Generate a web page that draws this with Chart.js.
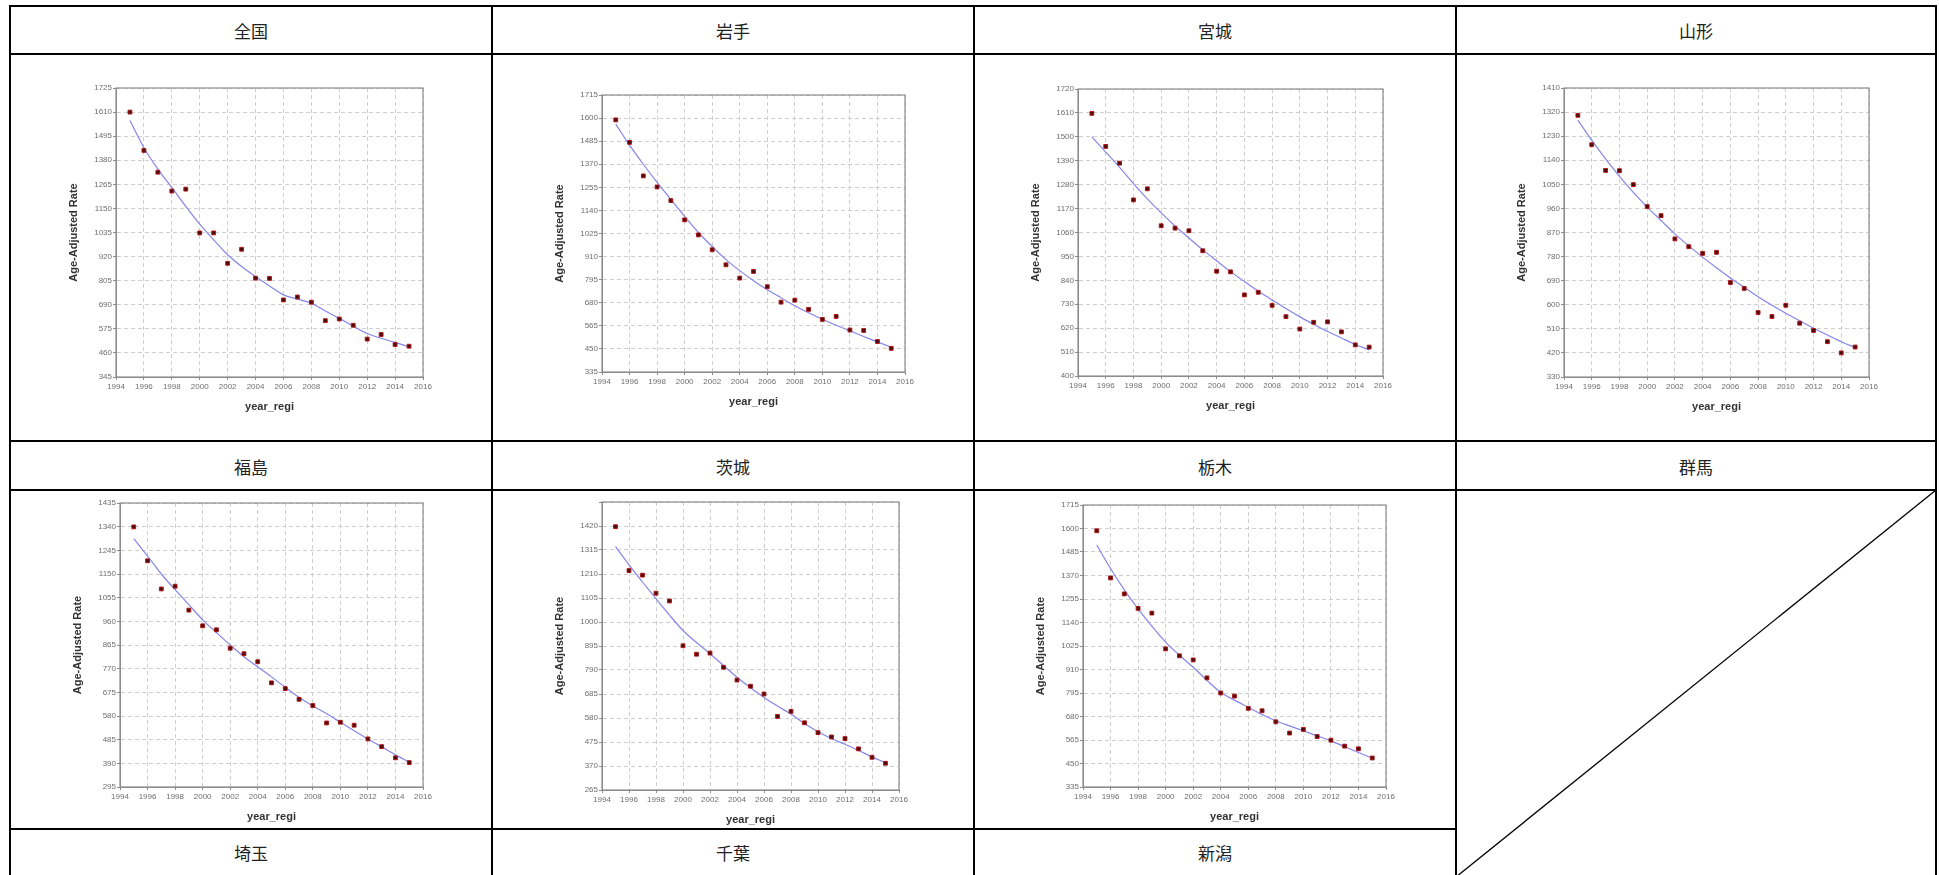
<!DOCTYPE html>
<html><head><meta charset="utf-8">
<script src="https://cdn.jsdelivr.net/npm/chart.js@4.4.1/dist/chart.umd.min.js"></script>
<style>
html,body{margin:0;padding:0;background:#fff;width:1939px;height:875px;overflow:hidden;}
body{position:relative;}
.lbl{position:absolute;font-family:"Noto Sans CJK JP","Noto Sans CJK SC",sans-serif;font-size:17px;color:#222;transform:translate(-50%,-50%);white-space:nowrap;line-height:1;}
.cv{position:absolute;}
svg{position:absolute;left:0;top:0;}
</style></head><body>
<script>
// ---------- data ----------
const years = [1995,1996,1997,1998,1999,2000,2001,2002,2003,2004,2005,2006,2007,2008,2009,2010,2011,2012,2013,2014,2015];
const xTicks = [1994,1996,1998,2000,2002,2004,2006,2008,2010,2012,2014,2016];
const headerRow1 = ['全国','岩手','宮城','山形'];
const headerRow2 = ['福島','茨城','栃木','群馬'];
const headerRow3 = ['埼玉','千葉','新潟'];
const yTitle = 'Age-Adjusted Rate';
const xTitle = 'year_regi';

const obsZenkoku = [1610,1427,1323,1233,1242,1033,1033,888,955,817,816,713,727,702,614,622,592,526,548,500,492];
const fitZenkoku = [1570,1440,1338,1250,1160,1075,1000,929,873,825,780,737,717,697,660,625,588,553,530,510,489];
const ticksZenkoku = [345,460,575,690,805,920,1035,1150,1265,1380,1495,1610,1725];

const obsIwate = [1591,1479,1312,1257,1189,1093,1018,944,869,803,836,760,683,693,647,597,612,544,542,487,453];
const fitIwate = [1570,1465,1370,1280,1195,1110,1030,960,895,840,790,745,705,665,630,598,568,540,512,485,458];
const ticksIwate = [335,450,565,680,795,910,1025,1140,1255,1370,1485,1600,1715];

const obsMiyagi = [1608,1456,1379,1210,1261,1091,1080,1068,976,882,879,773,785,725,673,616,647,649,603,543,533];
const fitMiyagi = [1500,1430,1360,1285,1215,1150,1090,1035,980,930,880,835,790,750,710,672,638,605,575,545,520];
const ticksMiyagi = [400,510,620,730,840,950,1060,1170,1280,1390,1500,1610,1720];

const obsYamagata = [1308,1198,1102,1101,1049,967,933,846,817,792,796,683,661,571,556,598,531,504,462,420,442];
const fitYamagata = [1290,1215,1145,1080,1020,965,915,865,820,778,738,700,665,630,598,568,540,512,487,462,440];
const ticksYamagata = [330,420,510,600,690,780,870,960,1050,1140,1230,1320,1410];

const obsFukushima = [1339,1203,1090,1101,1005,942,926,852,830,798,713,690,647,622,552,555,543,488,457,412,393];
const fitFukushima = [1292,1222,1150,1087,1027,966,915,865,818,777,737,695,655,620,589,555,521,488,456,424,395];
const ticksFukushima = [295,390,485,580,675,770,865,960,1055,1150,1245,1340,1435];

const obsIbaraki = [1417,1225,1205,1126,1092,896,859,864,802,746,719,685,587,609,559,516,497,490,445,408,382];
const fitIbaraki = [1330,1250,1175,1102,1030,963,910,861,810,758,712,670,632,597,556,520,490,465,438,410,385];
const ticksIbaraki = [265,370,475,580,685,790,895,1000,1105,1210,1315,1420,1525];

const obsTochigi = [1589,1358,1280,1209,1186,1011,977,957,869,795,780,720,708,654,599,617,582,564,535,522,477];
const fitTochigi = [1519,1404,1300,1207,1122,1044,980,921,857,798,760,725,690,659,634,610,585,561,532,504,476];
const ticksTochigi = [335,450,565,680,795,910,1025,1140,1255,1370,1485,1600,1715];

// ---------- layout (plot area boxes: left, top, right, bottom) ----------
const panels = [
  {obs:obsZenkoku, fit:fitZenkoku, ticks:ticksZenkoku, box:[116,88,423,377]},
  {obs:obsIwate, fit:fitIwate, ticks:ticksIwate, box:[602,95,905,372]},
  {obs:obsMiyagi, fit:fitMiyagi, ticks:ticksMiyagi, box:[1078,89,1383,376]},
  {obs:obsYamagata, fit:fitYamagata, ticks:ticksYamagata, box:[1564,88,1869,377]},
  {obs:obsFukushima, fit:fitFukushima, ticks:ticksFukushima, box:[120,503,423,787]},
  {obs:obsIbaraki, fit:fitIbaraki, ticks:ticksIbaraki, box:[602,502,899,790], hideTop:true},
  {obs:obsTochigi, fit:fitTochigi, ticks:ticksTochigi, box:[1083,505,1386,787]}
];

// ---------- table lines ----------
const colX = [10,492,974,1456,1936];
const NS = 'http://www.w3.org/2000/svg';
const svg = document.createElementNS(NS,'svg');
svg.setAttribute('width','1939'); svg.setAttribute('height','875');
function line(x1,y1,x2,y2,w,crisp){
  const l = document.createElementNS(NS,'line');
  l.setAttribute('x1',x1);l.setAttribute('y1',y1);l.setAttribute('x2',x2);l.setAttribute('y2',y2);
  l.setAttribute('stroke','#000');l.setAttribute('stroke-width',w);
  if(crisp) l.setAttribute('shape-rendering','crispEdges');
  svg.appendChild(l);
}
[6,54,441,490].forEach(y=>line(9,y,1937,y,2.4,true));
line(9,829,1457,829,2.4,true);
colX.forEach(x=>line(x,5,x,876,2.4,true));
line(1456,877,1936,490,1.3,false);
document.body.appendChild(svg);

function label(t,x,y){const d=document.createElement('div');d.className='lbl';d.textContent=t;d.style.left=x+'px';d.style.top=y+'px';document.body.appendChild(d);}
const centers = colX.slice(0,4).map((x,i)=>(x+colX[i+1])/2);
headerRow1.forEach((t,i)=>label(t,centers[i],30));
headerRow2.forEach((t,i)=>label(t,centers[i],466));
headerRow3.forEach((t,i)=>label(t,centers[i],852));

// ---------- charts ----------
const framePlugin = {id:'frame', beforeDatasetsDraw(c){const a=c.chartArea,ctx=c.ctx;ctx.save();ctx.strokeStyle='#8c8c8c';ctx.lineWidth=1.2;ctx.strokeRect(a.left,a.top,a.right-a.left,a.bottom-a.top);ctx.restore();}};
const FONT = '"Liberation Sans", Arial, sans-serif';
const YW = 53, XH = 40, TP = 12, RP = 22;

panels.forEach(p=>{
  const [L,T,R,B] = p.box;
  const W = R-L+YW+RP, H = B-T+XH+TP;
  const div = document.createElement('div'); div.className='cv';
  div.style.left=(L-YW)+'px'; div.style.top=(T-TP)+'px'; div.style.width=W+'px'; div.style.height=H+'px';
  const cv = document.createElement('canvas'); cv.width=W; cv.height=H; cv.style.width=W+'px'; cv.style.height=H+'px';
  div.appendChild(cv); document.body.appendChild(div);
  const yt = p.ticks;
  new Chart(cv,{
    type:'scatter',
    data:{datasets:[
      {type:'line', data:years.map((x,i)=>({x:x,y:p.fit[i]})), borderColor:'#8585ea', borderWidth:1.2, pointRadius:0, fill:false, cubicInterpolationMode:'monotone', order:2},
      {type:'scatter', data:years.map((x,i)=>({x:x,y:p.obs[i]})), pointStyle:'rect', pointRadius:2.7, backgroundColor:'#4a0a0a', borderColor:'#b01818', borderWidth:1, order:1}
    ]},
    options:{
      responsive:false, animation:false, events:[], devicePixelRatio:1,
      layout:{padding:{top:TP,right:RP,left:0,bottom:0}},
      plugins:{legend:{display:false},tooltip:{enabled:false}},
      scales:{
        x:{type:'linear', min:xTicks[0], max:xTicks[xTicks.length-1],
          afterBuildTicks:a=>{a.ticks=xTicks.map(v=>({value:v}));},
          afterFit:s=>{s.height=XH;},
          grid:{color:'#cfcfcf', tickLength:3, tickColor:'#8c8c8c', lineWidth:1},
          border:{display:true,color:'#8c8c8c',width:1,dash:[4,3]},
          ticks:{font:{size:8,family:FONT}, color:'#6e6e6e', padding:2, maxRotation:0, autoSkip:false, callback:v=>String(v)},
          title:{display:true,text:xTitle,font:{size:11,weight:'bold',family:FONT},color:'#333',padding:{top:0,bottom:3}}},
        y:{type:'linear', min:yt[0], max:yt[yt.length-1],
          afterBuildTicks:a=>{a.ticks=yt.map(v=>({value:v}));},
          afterFit:s=>{s.width=YW;},
          grid:{color:'#cfcfcf', tickLength:3, tickColor:'#8c8c8c', lineWidth:1},
          border:{display:true,color:'#8c8c8c',width:1,dash:[4,3]},
          ticks:{font:{size:8,family:FONT}, color:'#6e6e6e', padding:1, autoSkip:false,
            callback:(v)=> (p.hideTop && v===yt[yt.length-1]) ? '' : String(v)},
          title:{display:true,text:yTitle,font:{size:11,weight:'bold',family:FONT},color:'#333',padding:{top:4,bottom:0}}}
      }
    },
    plugins:[framePlugin]
  });
});
</script>
</body></html>
